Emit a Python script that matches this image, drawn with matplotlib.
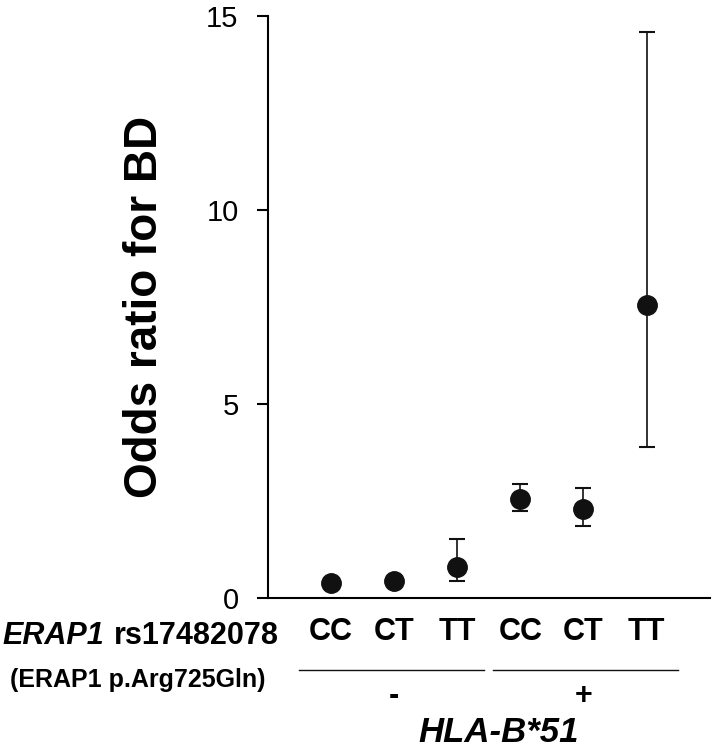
import numpy as np
import matplotlib.pyplot as plt
from matplotlib.transforms import blended_transform_factory

genotypes = ['CC', 'CT', 'TT', 'CC', 'CT', 'TT']
odds = [0.39, 0.44, 0.81, 2.56, 2.29, 7.55]
ci_low = [0.39, 0.44, 0.43, 2.23, 1.86, 3.90]
ci_high = [0.39, 0.44, 1.51, 2.94, 2.83, 14.59]
hla_groups = ['-', '+']

plt.rcParams['font.family'] = ['Liberation Sans', 'DejaVu Sans']

fig = plt.figure(figsize=(7.14, 7.5), dpi=100)
ax = fig.add_axes([0.375, 0.2027, 0.619, 0.776])

x = np.arange(1, len(odds) + 1)
odds = np.array(odds)
yerr = [odds - np.array(ci_low), np.array(ci_high) - odds]
ax.errorbar(x, odds, yerr=yerr, fmt='o', color='#111111', markersize=14,
            ecolor='#111111', elinewidth=1.2, capsize=6, capthick=1.5)

ax.set_xlim(0, 7)
ax.set_ylim(0, 15)
ax.set_yticks([0, 5, 10, 15])
ax.spines['top'].set_visible(False)
ax.spines['right'].set_visible(False)
ax.spines['left'].set_linewidth(1.5)
ax.spines['bottom'].set_linewidth(1.5)
ax.tick_params(axis='y', labelsize=21, length=8, width=1.5, pad=13)
ax.set_xticks(x)
ax.set_xticklabels(genotypes, fontsize=22, fontweight='bold')
ax.tick_params(axis='x', length=0, pad=14)
ax.set_ylabel('Odds ratio for BD', fontsize=33, fontweight='bold', labelpad=28)

# annotation below the axis
fig.text(0.004, 0.152, 'ERAP1', fontsize=22, fontweight='bold', fontstyle='italic',
         ha='left', va='center')
fig.text(0.160, 0.152, 'rs17482078', fontsize=22, fontweight='bold', ha='left', va='center')
fig.text(0.193, 0.094, '(ERAP1 p.Arg725Gln)', fontsize=18, fontweight='bold',
         ha='center', va='center')

tr = blended_transform_factory(ax.transData, fig.transFigure)
ax.plot([0.5, 3.42], [0.107, 0.107], transform=tr, color='#111111', lw=1, clip_on=False)
ax.plot([3.56, 6.5], [0.107, 0.107], transform=tr, color='#111111', lw=1, clip_on=False)
ax.text(2, 0.072, hla_groups[0], transform=tr, fontsize=22, fontweight='bold', ha='center', va='center')
ax.text(5, 0.072, hla_groups[1], transform=tr, fontsize=22, fontweight='bold', ha='center', va='center')
ax.text(3.65, 0.024, 'HLA-B*51', transform=tr, fontsize=25, fontweight='bold', fontstyle='italic',
        ha='center', va='center')

fig.savefig('out.png', dpi=100)
